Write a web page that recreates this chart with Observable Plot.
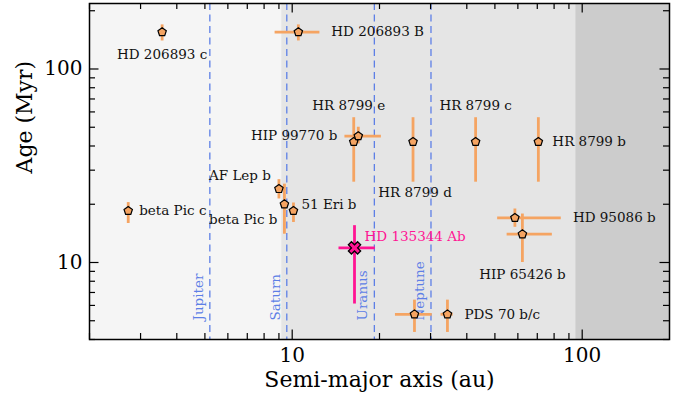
<!DOCTYPE html>
<html>
<head>
<meta charset="utf-8">
<script src="https://cdn.jsdelivr.net/npm/d3@7"></script>
<script src="https://cdn.jsdelivr.net/npm/@observablehq/plot@0.6"></script>
<style>
  html, body { margin: 0; padding: 0; background: #fff; }
  #chart svg { display: block; }
</style>
</head>
<body>
<div id="chart"></div>
<script>
// Directly imaged companions: semi-major axis (au) and system age (Myr)
const names   = ["HD 206893 c", "HD 206893 B", "HR 8799 e", "HIP 99770 b", "HR 8799 d", "HR 8799 c", "HR 8799 b",
                 "AF Lep b", "beta Pic b", "51 Eri b", "beta Pic c", "HD 95086 b", "HIP 65426 b", "PDS 70 b", "PDS 70 c"];
const sma     = [3.56, 10.5, 16.3, 16.9, 26.1, 42.9, 70.6, 9.0, 9.4, 10.1, 2.72, 58.6, 62.2, 26.4, 34.3];
const smaLo   = [3.56, 8.73, 16.3, 15.2, 26.1, 42.9, 70.6, 9.0, 9.4, 10.1, 2.72, 51.1, 55.1, 22.7, 32.6];
const smaHi   = [3.56, 12.46, 16.3, 20.3, 26.1, 42.9, 70.6, 9.0, 9.4, 10.1, 2.72, 84.7, 78.9, 30.4, 35.9];
const age     = [155, 155, 42, 45, 42, 42, 42, 24, 20, 18.5, 18.5, 17, 14, 5.4, 5.4];
const ageLo   = [139.6, 139.6, 26, 41, 26, 26, 26, 21.3, 14, 16.1, 15.9, 15.2, 10, 4.35, 4.35];
const ageHi   = [169, 169, 56, 50, 56, 56, 56, 26.8, 25.4, 20.3, 20.4, 18.9, 17.8, 6.39, 6.39];

// Highlighted companion
const targetName  = "HD 135344 Ab";
const targetSma   = [16.4];
const targetSmaLo = [14.5];
const targetSmaHi = [19.35];
const targetAge   = [11.9];
const targetAgeLo = [6.1];
const targetAgeHi = [15.5];

// Solar-system giant planets
const solarNames = ["Jupiter", "Saturn", "Uranus", "Neptune"];
const solarSma   = [5.2, 9.58, 19.2, 30.1];

// Shaded separation ranges (au)
const zoneLo = [2, 9.2, 95];
const zoneHi = [9.2, 95, 200];

// Axis ticks
const majorTicks = [10, 100];
const minorX = [2, 3, 4, 5, 6, 7, 8, 9, 20, 30, 40, 50, 60, 70, 80, 90];
const minorY = [4, 5, 6, 7, 8, 9, 20, 30, 40, 50, 60, 70, 80, 90, 200];

const rows = names.map((name, i) => ({
  name, a: sma[i], aLo: smaLo[i], aHi: smaHi[i], age: age[i], ageLo: ageLo[i], ageHi: ageHi[i]
}));
const target = targetSma.map((a, i) => ({
  name: targetName, a, aLo: targetSmaLo[i], aHi: targetSmaHi[i],
  age: targetAge[i], ageLo: targetAgeLo[i], ageHi: targetAgeHi[i]
}));
const solar = solarNames.map((name, i) => ({name, a: solarSma[i]}));
const zones = zoneLo.map((lo, i) => ({lo, hi: zoneHi[i]}));
const zoneFill = ["#f5f5f5", "#e5e5e5", "#cccccc"];

// label placement around each marker
const labelLayout = [
  {name: "HD 206893 c", anchor: "middle", dx: 0,   dy: 23},
  {name: "HD 206893 B", anchor: "start",  dx: 33,  dy: 0},
  {name: "HR 8799 e",   anchor: "middle", dx: -5,  dy: -36},
  {name: "HIP 99770 b", anchor: "end",    dx: -21, dy: 0},
  {name: "HR 8799 d",   anchor: "middle", dx: 2,   dy: 51},
  {name: "HR 8799 c",   anchor: "middle", dx: 0,   dy: -36},
  {name: "HR 8799 b",   anchor: "start",  dx: 14,  dy: 0},
  {name: "AF Lep b",    anchor: "end",    dx: -8,  dy: -13},
  {name: "beta Pic b",  anchor: "end",    dx: -7,  dy: 15},
  {name: "51 Eri b",    anchor: "start",  dx: 8,   dy: -6},
  {name: "beta Pic c",  anchor: "start",  dx: 11,  dy: 0},
  {name: "HD 95086 b",  anchor: "start",  dx: 58,  dy: 0},
  {name: "HIP 65426 b", anchor: "middle", dx: 0,   dy: 40},
  {name: "PDS 70 c", text: "PDS 70 b/c", anchor: "start", dx: 17, dy: 0}
];

const orange = "#f5a462";
const pink = "#ff1493";
const blue = "#5d7fe6";
const labelSize = 13.5;

// matplotlib-like filled markers
const pentagon = {
  draw(ctx, size) {
    const R = Math.sqrt(size / Math.PI);
    for (let i = 0; i < 5; ++i) {
      const t = -Math.PI / 2 + i * 2 * Math.PI / 5;
      const px = R * Math.cos(t), py = R * Math.sin(t);
      if (i === 0) ctx.moveTo(px, py); else ctx.lineTo(px, py);
    }
    ctx.closePath();
  }
};
const filledX = {
  draw(ctx, size) {
    const L = Math.sqrt(size / Math.PI), w = L / 3;
    const pts = [[w, -w], [L, -w], [L, w], [w, w], [w, L], [-w, L], [-w, w], [-L, w], [-L, -w], [-w, -w], [-w, -L], [w, -L]];
    const c = Math.SQRT1_2;
    pts.forEach(([x, y], i) => {
      const rx = (x - y) * c, ry = (x + y) * c;
      if (i === 0) ctx.moveTo(rx, ry); else ctx.lineTo(rx, ry);
    });
    ctx.closePath();
  }
};

const W = 686, H = 398, mL = 89, mR = 17, mT = 3, mB = 59;
const innerH = H - mT - mB;
const innerW = W - mL - mR;
const majLen = 9.5, minLen = 6;

function tickMarks(values, len) {
  return [
    Plot.ruleX(values, {x: d => d, insetTop: innerH - len, stroke: "black", strokeWidth: 1.2}),
    Plot.ruleX(values, {x: d => d, insetBottom: innerH - len, stroke: "black", strokeWidth: 1.2})
  ];
}
function tickMarksY(values, len) {
  return [
    Plot.ruleY(values, {y: d => d, insetRight: innerW - len, stroke: "black", strokeWidth: 1.2}),
    Plot.ruleY(values, {y: d => d, insetLeft: innerW - len, stroke: "black", strokeWidth: 1.2})
  ];
}

const chart = Plot.plot({
  width: W,
  height: H,
  marginLeft: mL,
  marginRight: mR,
  marginTop: mT,
  marginBottom: mB,
  style: {fontFamily: "'DejaVu Serif', serif", background: "#ffffff", color: "#000"},
  x: {type: "log", domain: [2, 200]},
  y: {type: "log", domain: [4, 218]},
  marks: [
    ...zones.map((z, i) => Plot.rect([z], {x1: "lo", x2: "hi", fill: zoneFill[i]})),
    Plot.ruleX(solar, {x: "a", stroke: blue, strokeWidth: 1.3, strokeDasharray: "7,4.5"}),
    Plot.text(solar, {
      x: "a", text: "name", frameAnchor: "bottom", rotate: -90, textAnchor: "start",
      dx: -7, dy: -19, fill: blue, fontSize: labelSize
    }),
    // error bars
    Plot.ruleY(rows.filter(d => d.aHi > d.aLo), {y: "age", x1: "aLo", x2: "aHi", stroke: orange, strokeWidth: 2.8}),
    Plot.ruleX(rows, {x: "a", y1: "ageLo", y2: "ageHi", stroke: orange, strokeWidth: 2.8}),
    Plot.dot(rows, {x: "a", y: "age", symbol: pentagon, r: 4.4, fill: orange, stroke: "black", strokeWidth: 1.2}),
    ...labelLayout.map(l => Plot.text(rows.filter(d => d.name === l.name), {
      x: "a", y: "age", text: () => l.text ?? l.name,
      textAnchor: l.anchor, dx: l.dx, dy: l.dy, fontSize: labelSize, fill: "#111"
    })),
    // highlighted companion
    Plot.ruleY(target, {y: "age", x1: "aLo", x2: "aHi", stroke: pink, strokeWidth: 2.8}),
    Plot.ruleX(target, {x: "a", y1: "ageLo", y2: "ageHi", stroke: pink, strokeWidth: 2.8}),
    Plot.dot(target, {x: "a", y: "age", symbol: filledX, r: 6.5, fill: pink, stroke: "black", strokeWidth: 1.3}),
    Plot.text(target, {x: "a", y: "age", text: "name", textAnchor: "start", dx: 10, dy: -11.5, fill: pink, fontSize: labelSize}),
    // frame and inward ticks
    ...tickMarks(majorTicks, majLen),
    ...tickMarks(minorX, minLen),
    ...tickMarksY(majorTicks, majLen),
    ...tickMarksY(minorY, minLen),
    Plot.frame({stroke: "black", strokeWidth: 1.5}),
    Plot.axisX(majorTicks, {tickSize: 0, tickPadding: 8, fontSize: 20, label: null, tickFormat: d => String(d)}),
    Plot.axisY(majorTicks, {tickSize: 0, tickPadding: 7, fontSize: 20, label: null, tickFormat: d => String(d)}),
    Plot.text(["Semi-major axis (au)"], {frameAnchor: "bottom", text: d => d, dy: 47, fontSize: 22}),
    Plot.text(["Age (Myr)"], {frameAnchor: "left", text: d => d, rotate: -90, dx: -65, dy: 2, fontSize: 22})
  ]
});

document.getElementById("chart").appendChild(chart);
</script>
</body>
</html>
